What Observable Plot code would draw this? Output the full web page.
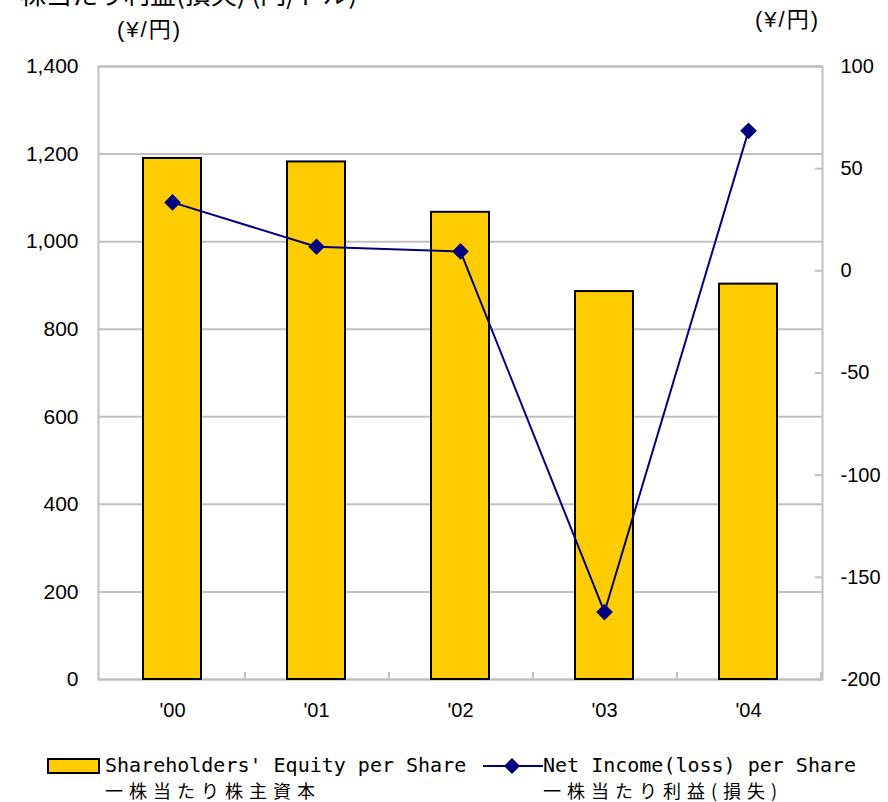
<!DOCTYPE html>
<html><head><meta charset="utf-8">
<script src="https://cdn.jsdelivr.net/npm/d3@7"></script>
<script src="https://cdn.jsdelivr.net/npm/@observablehq/plot@0.6"></script>
<style>
html,body{margin:0;padding:0;background:#fff;}
#wrap{position:relative;width:888px;height:802px;overflow:hidden;font-family:"Liberation Sans",Arial,"Noto Sans CJK JP",sans-serif;color:#000;}
#chart{position:absolute;left:0;top:0;}
.abs{position:absolute;white-space:nowrap;}
.unit{font-size:22px;line-height:24px;letter-spacing:2px;font-family:"Liberation Sans","Noto Sans CJK JP",sans-serif;}
.en{font-family:"DejaVu Sans Mono","Liberation Mono",monospace;font-size:20px;line-height:22px;}
.ja{font-family:"Noto Sans CJK JP",sans-serif;font-size:18px;line-height:22px;letter-spacing:6px;}
</style></head><body>
<div id="wrap">
  <div id="chart"></div>
  <div class="abs" style="left:20px;top:-22px;font-size:26px;line-height:30px;font-family:'Noto Sans CJK JP',sans-serif;">株当たり利益(損失) (円/ドル)</div>
  <div class="abs unit" style="left:117px;top:18px;">(¥/円)</div>
  <div class="abs unit" style="left:755px;top:8px;">(¥/円)</div>
  <div class="abs" style="left:47px;top:758px;width:53px;height:16px;background:#FFCC00;border:2px solid #000;box-sizing:border-box;"></div>
  <div class="abs en" style="left:105px;top:754px;">Shareholders' Equity per Share</div>
  <div class="abs ja" style="left:105px;top:779px;">一株当たり株主資本</div>
  <svg class="abs" style="left:483px;top:756px;" width="60" height="20"><line x1="0" y1="10" x2="60" y2="10" stroke="#000080" stroke-width="2"/><path d="M29,2 L37,10 L29,18 L21,10 Z" fill="#000080"/></svg>
  <div class="abs en" style="left:543px;top:754px;">Net Income(loss) per Share</div>
  <div class="abs ja" style="left:543px;top:779px;">一株当たり利益(損失)</div>
</div>
<script>
const years = ["'00", "'01", "'02", "'03", "'04"];
const equityPerShare = [1190, 1182, 1067, 886, 903];
const netIncomePerShare = [33.5, 11.8, 9.5, -167, 68.5];
const leftTicks = [0, 200, 400, 600, 800, 1000, 1200, 1400];
const rightTicks = [-200, -150, -100, -50, 0, 50, 100];
const leftDomain = [0, 1400];
const rightDomain = [-200, 100];

const toLeft = v => leftDomain[0] + (v - rightDomain[0]) * (leftDomain[1] - leftDomain[0]) / (rightDomain[1] - rightDomain[0]);
const fromLeft = y => rightDomain[0] + (y - leftDomain[0]) * (rightDomain[1] - rightDomain[0]) / (leftDomain[1] - leftDomain[0]);

const bars = years.map((year, i) => ({year, value: equityPerShare[i]}));
const line = years.map((year, i) => ({year, value: netIncomePerShare[i]}));

const W = 888, H = 740, mL = 98, mR = 66, mT = 66, mB = 61;
const innerW = W - mL - mR, innerH = H - mT - mB;
const step = innerW / years.length;
const grey = "#c0c0c0";

const chart = Plot.plot({
  width: W, height: H,
  marginLeft: mL, marginRight: mR, marginTop: mT, marginBottom: mB,
  style: {fontFamily: "'Liberation Sans', Arial, sans-serif", fontSize: "20px", color: "#000", background: "#fff", overflow: "visible"},
  x: {domain: years, paddingInner: 0.6, paddingOuter: 0.3, label: null},
  y: {domain: leftDomain, label: null},
  marks: [
    Plot.gridY(leftTicks, {stroke: grey, strokeOpacity: 1, strokeWidth: 2}),
    Plot.ruleX(years, {x: d => d, dx: step / 2, insetTop: innerH - 7, stroke: grey, strokeWidth: 2}),
    Plot.ruleY(rightTicks, {y: d => toLeft(d), insetLeft: innerW - 7, stroke: grey, strokeWidth: 2}),
    Plot.frame({stroke: grey, strokeWidth: 2}),
    Plot.barY(bars, {x: "year", y: "value", fill: "#FFCC00", stroke: "#000", strokeWidth: 2}),
    Plot.line(line, {x: "year", y: d => toLeft(d.value), stroke: "#000080", strokeWidth: 2}),
    Plot.dot(line, {x: "year", y: d => toLeft(d.value), symbol: "diamond2", r: 7.5, fill: "#000080", stroke: "none"}),
    Plot.axisY(leftTicks, {anchor: "left", tickSize: 0, tickPadding: 20, tickFormat: d3.format(","), label: null, fontSize: 21}),
    Plot.axisY(rightTicks.map(toLeft), {anchor: "right", tickSize: 0, tickPadding: 18, tickFormat: d => String(Math.round(fromLeft(d))), label: null}),
    Plot.axisX({tickSize: 0, tickPadding: 23, label: null})
  ]
});
document.getElementById("chart").appendChild(chart);
</script>
</body></html>
